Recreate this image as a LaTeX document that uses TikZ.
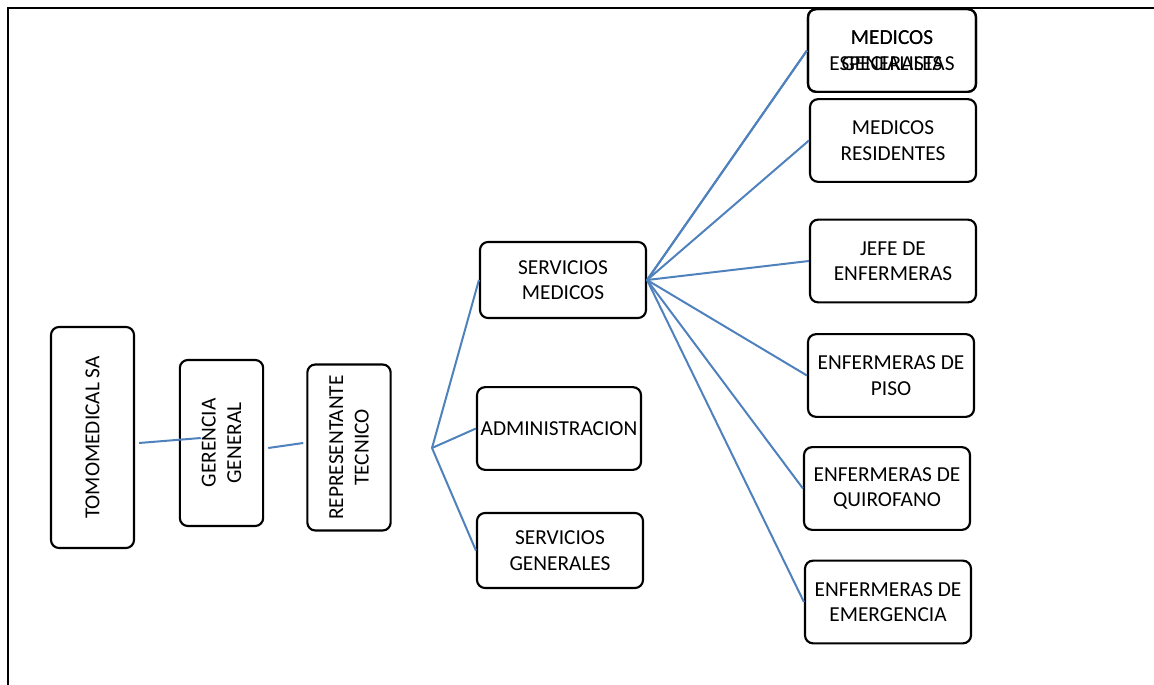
\documentclass[tikz,border=0pt]{standalone}
\usepackage{fontspec}
\setmainfont{Carlito}
\usetikzlibrary{positioning,calc}
\definecolor{linkblue}{RGB}{79,129,189}

\begin{document}
\begin{tikzpicture}[x=0.75pt,y=-0.75pt]
  \tikzset{unit/.style = {shape=rectangle,draw,rounded corners=6pt,line width=1.6pt,align=center,font=\fontsize{16}{19}\selectfont,inner sep=2pt}}
  \tikzset{vunit/.style = {unit,rotate=90,minimum width=124.5pt,minimum height=62.5pt}}
  \tikzset{hunit/.style = {unit,minimum width=124.5pt,minimum height=62pt}}
  \tikzset{link/.style = {draw=linkblue,line width=1.5pt}}

  \useasboundingbox (0,0) rectangle (1154,685);
  \draw[line width=1.7pt] (1154,8) -- (8,8) -- (8,685);

	\node[unit,rotate=90,minimum width=165.75pt,minimum height=62.25pt] (tomo) at (92.5,437.5) {TOMOMEDICAL SA};
	\node[vunit] (gerencia) at (221.5,443) {GERENCIA\\GENERAL};
	\node[vunit] (repre) at (349,447.5) {REPRESENTANTE\\TECNICO};

	\node[hunit,minimum height=57pt] (smed) at (563,280) {SERVICIOS\\MEDICOS};
	\node[hunit,minimum width=123pt] (admin) at (559,428.5) {ADMINISTRACION};
	\node[hunit,minimum height=56.25pt] (sgen) at (560,550.5) {SERVICIOS\\GENERALES};

	\node[hunit,minimum width=126pt] (medgen) at (892,50.5) {MEDICOS\\GENERALES};
	\node[hunit,minimum width=126pt] (medesp) at (892,50.5) {MEDICOS\\ESPECIALISTAS};
	\node[hunit] (medres) at (893,140.5) {MEDICOS\\RESIDENTES};
	\node[hunit] (jefe) at (893,261) {JEFE DE\\ENFERMERAS};
	\node[hunit] (piso) at (891,375.5) {ENFERMERAS DE\\PISO};
	\node[hunit] (quiro) at (887,488.5) {ENFERMERAS DE\\QUIROFANO};
	\node[hunit] (emerg) at (888,602) {ENFERMERAS DE\\EMERGENCIA};

	\coordinate (fork) at (432,448);

    \draw[link] ($(tomo.south)+(4,5.5)$) -- ($(gerencia.north)+(22,-5)$);
    \draw[link] ($(gerencia.south)+(4,5)$) -- ($(repre.north)+(-3,-4.5)$);

    \foreach \to in {smed, admin, sgen}
    \draw[link] (fork) -- (\to.west);

    \foreach \to in {medgen, medesp, medres, jefe, piso, quiro, emerg}
    \draw[link] (smed.east) -- (\to.west);

\end{tikzpicture}
\end{document}
